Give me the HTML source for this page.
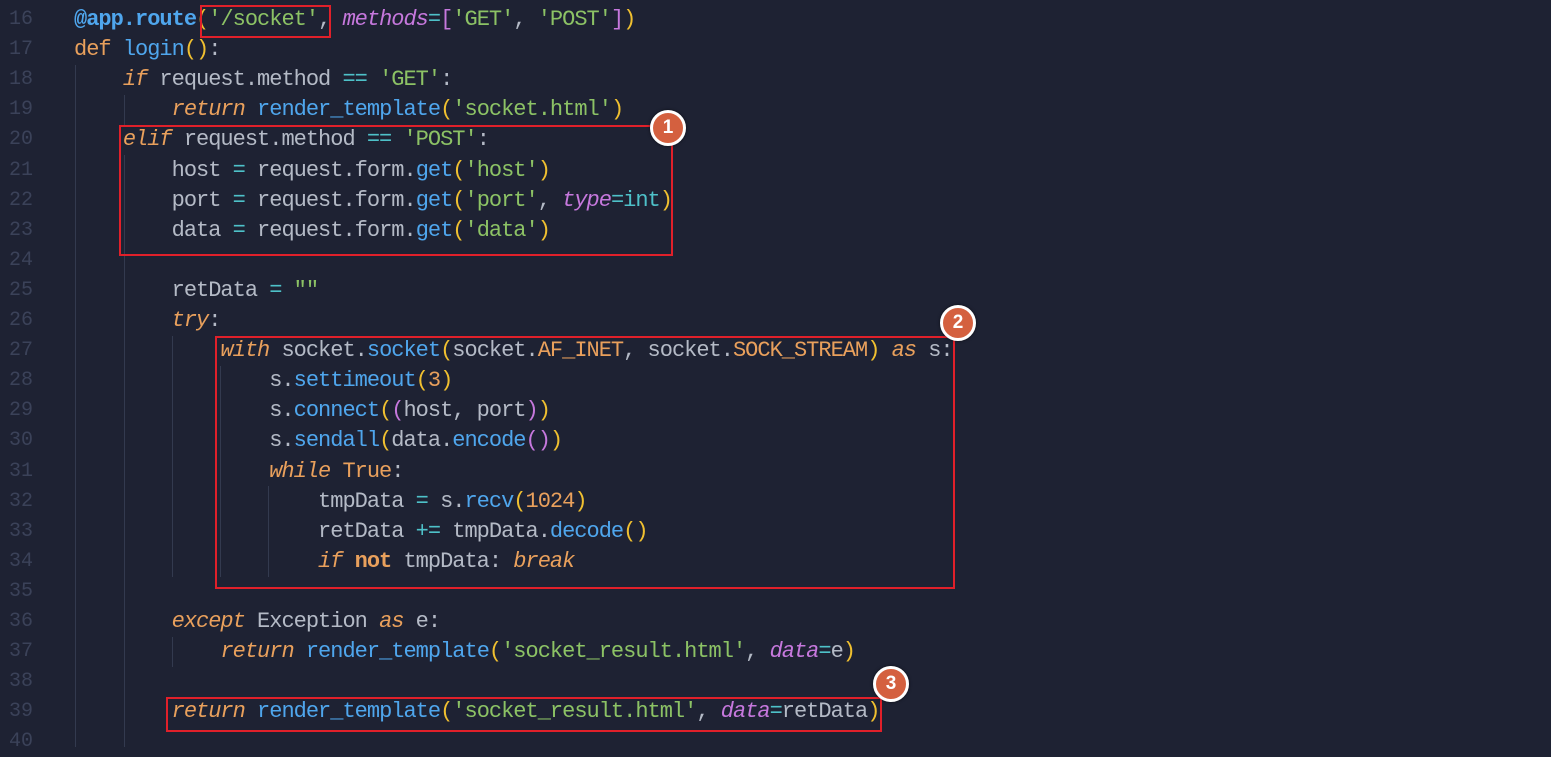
<!DOCTYPE html>
<html><head><meta charset="utf-8"><style>
html,body{margin:0;padding:0}
body{width:1551px;height:753px;background:#1e2233;position:relative;overflow:hidden;font-family:"Liberation Mono",monospace;font-size:22px;letter-spacing:-1px}
.l{position:absolute;left:74px;height:30px;line-height:30px;white-space:pre;color:#b4bac6}
.n{position:absolute;left:0;width:33px;text-align:right;height:30px;line-height:30px;color:#3b4259;font-size:20px;letter-spacing:0}
.g{position:absolute;width:1px;background:#333a4f}
.b{position:absolute;border:2px solid #e0202a;box-sizing:border-box}
.c{position:absolute;width:36px;height:36px;border-radius:50%;background:#d4603f;border:3px solid #fff;box-sizing:border-box;color:#fff;font-family:"Liberation Sans",sans-serif;font-weight:bold;font-size:19px;letter-spacing:0;line-height:30px;text-align:center;box-shadow:0 0 3px rgba(0,0,0,.6)}
.k{color:#e9a05c;font-style:italic}
.o{color:#e9a05c}
.f{color:#4fa6ed}
.s{color:#8cc265}
.p{color:#f0c030}
.m{color:#c678dd}
.a{color:#c678dd;font-style:italic}
.y{color:#4ec1c9}
</style></head><body>
<div class="g" style="left:75px;top:65px;height:682px"></div>
<div class="g" style="left:124px;top:95px;height:30px"></div>
<div class="g" style="left:124px;top:155px;height:592px"></div>
<div class="g" style="left:172px;top:336px;height:241px"></div>
<div class="g" style="left:172px;top:637px;height:30px"></div>
<div class="g" style="left:220px;top:366px;height:211px"></div>
<div class="g" style="left:268px;top:486px;height:91px"></div>

<div class="n" style="top:5px">16</div>
<div class="n" style="top:35.1px">17</div>
<div class="n" style="top:65.2px">18</div>
<div class="n" style="top:95.3px">19</div>
<div class="n" style="top:125.4px">20</div>
<div class="n" style="top:155.5px">21</div>
<div class="n" style="top:185.6px">22</div>
<div class="n" style="top:215.7px">23</div>
<div class="n" style="top:245.8px">24</div>
<div class="n" style="top:275.9px">25</div>
<div class="n" style="top:306px">26</div>
<div class="n" style="top:336.1px">27</div>
<div class="n" style="top:366.2px">28</div>
<div class="n" style="top:396.3px">29</div>
<div class="n" style="top:426.4px">30</div>
<div class="n" style="top:456.5px">31</div>
<div class="n" style="top:486.6px">32</div>
<div class="n" style="top:516.7px">33</div>
<div class="n" style="top:546.8px">34</div>
<div class="n" style="top:576.9px">35</div>
<div class="n" style="top:607px">36</div>
<div class="n" style="top:637.1px">37</div>
<div class="n" style="top:667.2px">38</div>
<div class="n" style="top:697.3px">39</div>
<div class="n" style="top:727.4px">40</div>

<div class="l" style="top:5px"><span class="f" style="font-weight:bold">@app.route</span><span class="p">(</span><span class="s">'/socket'</span>, <span class="a">methods</span><span class="y">=</span><span class="m">[</span><span class="s">'GET'</span>, <span class="s">'POST'</span><span class="m">]</span><span class="p">)</span></div>
<div class="l" style="top:35.1px"><span class="o">def</span> <span class="f">login</span><span class="p">()</span>:</div>
<div class="l" style="top:65.2px">    <span class="k">if</span> request.method <span class="y">==</span> <span class="s">'GET'</span>:</div>
<div class="l" style="top:95.3px">        <span class="k">return</span> <span class="f">render_template</span><span class="p">(</span><span class="s">'socket.html'</span><span class="p">)</span></div>
<div class="l" style="top:125.4px">    <span class="k">elif</span> request.method <span class="y">==</span> <span class="s">'POST'</span>:</div>
<div class="l" style="top:155.5px">        host <span class="y">=</span> request.form.<span class="f">get</span><span class="p">(</span><span class="s">'host'</span><span class="p">)</span></div>
<div class="l" style="top:185.6px">        port <span class="y">=</span> request.form.<span class="f">get</span><span class="p">(</span><span class="s">'port'</span>, <span class="a">type</span><span class="y">=int</span><span class="p">)</span></div>
<div class="l" style="top:215.7px">        data <span class="y">=</span> request.form.<span class="f">get</span><span class="p">(</span><span class="s">'data'</span><span class="p">)</span></div>
<div class="l" style="top:275.9px">        retData <span class="y">=</span> <span class="s">""</span></div>
<div class="l" style="top:306px">        <span class="k">try</span>:</div>
<div class="l" style="top:336.1px">            <span class="k">with</span> socket.<span class="f">socket</span><span class="p">(</span>socket.<span class="o">AF_INET</span>, socket.<span class="o">SOCK_STREAM</span><span class="p">)</span> <span class="k">as</span> s:</div>
<div class="l" style="top:366.2px">                s.<span class="f">settimeout</span><span class="p">(</span><span class="o">3</span><span class="p">)</span></div>
<div class="l" style="top:396.3px">                s.<span class="f">connect</span><span class="p">(</span><span class="m">(</span>host, port<span class="m">)</span><span class="p">)</span></div>
<div class="l" style="top:426.4px">                s.<span class="f">sendall</span><span class="p">(</span>data.<span class="f">encode</span><span class="m">()</span><span class="p">)</span></div>
<div class="l" style="top:456.5px">                <span class="k">while</span> <span class="o">True</span>:</div>
<div class="l" style="top:486.6px">                    tmpData <span class="y">=</span> s.<span class="f">recv</span><span class="p">(</span><span class="o">1024</span><span class="p">)</span></div>
<div class="l" style="top:516.7px">                    retData <span class="y">+=</span> tmpData.<span class="f">decode</span><span class="p">()</span></div>
<div class="l" style="top:546.8px">                    <span class="k">if</span> <span class="o" style="font-weight:bold">not</span> tmpData: <span class="k">break</span></div>
<div class="l" style="top:607px">        <span class="k">except</span> Exception <span class="k">as</span> e:</div>
<div class="l" style="top:637.1px">            <span class="k">return</span> <span class="f">render_template</span><span class="p">(</span><span class="s">'socket_result.html'</span>, <span class="a">data</span><span class="y">=</span>e<span class="p">)</span></div>
<div class="l" style="top:697.3px">        <span class="k">return</span> <span class="f">render_template</span><span class="p">(</span><span class="s">'socket_result.html'</span>, <span class="a">data</span><span class="y">=</span>retData<span class="p">)</span></div>

<div class="b" style="left:200px;top:5px;width:131px;height:33px"></div>
<div class="b" style="left:119px;top:125px;width:554px;height:131px"></div>
<div class="b" style="left:215px;top:336px;width:740px;height:253px"></div>
<div class="b" style="left:166px;top:697px;width:716px;height:35px"></div>

<div class="c" style="left:650px;top:110px">1</div>
<div class="c" style="left:940px;top:305px">2</div>
<div class="c" style="left:873px;top:666px">3</div>
</body></html>
